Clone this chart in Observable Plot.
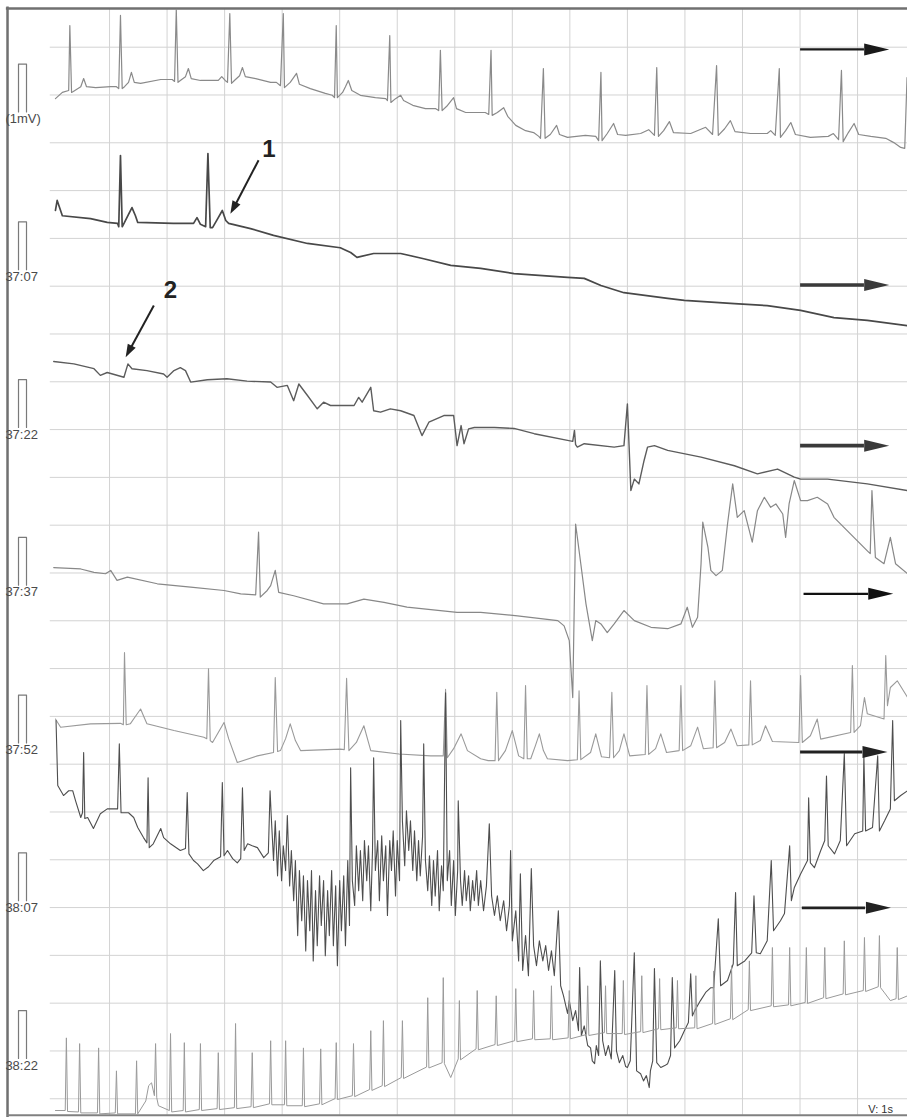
<!DOCTYPE html>
<html><head><meta charset="utf-8">
<script src="https://cdn.jsdelivr.net/npm/d3@7"></script>
<script src="https://cdn.jsdelivr.net/npm/@observablehq/plot@0.6"></script>
<style>html,body{margin:0;padding:0;background:#fff;overflow:hidden}#chart svg{display:block}</style>
</head><body><div id="chart"></div>
<script>
// ---- strip labels (each strip = 15 s) ----
const rowLabels = ["(1mV)", "37:07", "37:22", "37:37", "37:52", "38:07", "38:22"];

// ---- traces: [time in s within strip, amplitude in mV relative to strip baseline] ----
const row1 = [[0.06,0.28],[0.18,0.41],[0.29,0.45],[0.31,1.81],[0.34,0.41],[0.37,0.43],[0.50,0.53],[0.55,0.70],[0.60,0.53],[0.76,0.51],[1.02,0.53],[1.12,0.53],[1.16,0.49],[1.19,2.02],[1.22,0.49],[1.26,0.53],[1.33,0.62],[1.38,0.83],[1.43,0.62],[1.54,0.60],[1.89,0.68],[2.09,0.68],[2.13,0.64],[2.16,2.15],[2.19,0.62],[2.23,0.66],[2.32,0.74],[2.37,0.91],[2.42,0.70],[2.58,0.66],[2.84,0.66],[2.89,0.66],[2.95,0.74],[3.01,0.66],[3.05,0.62],[3.09,2.06],[3.12,0.60],[3.17,0.66],[3.26,0.76],[3.31,0.93],[3.36,0.74],[3.54,0.70],[3.80,0.62],[3.90,0.62],[3.97,0.55],[4.02,2.06],[4.04,0.51],[4.14,0.62],[4.25,0.81],[4.30,0.58],[4.49,0.49],[4.75,0.39],[4.87,0.35],[4.91,0.30],[4.94,1.81],[4.96,0.30],[5.05,0.41],[5.10,0.53],[5.15,0.66],[5.21,0.45],[5.36,0.35],[5.62,0.30],[5.80,0.28],[5.83,0.24],[5.87,1.60],[5.89,0.20],[5.97,0.28],[6.06,0.35],[6.11,0.24],[6.27,0.14],[6.49,0.07],[6.67,0.07],[6.72,0.03],[6.75,1.29],[6.78,0.03],[6.86,0.12],[6.98,0.30],[7.03,0.07],[7.19,-0.01],[7.41,-0.01],[7.53,-0.01],[7.59,-0.05],[7.63,1.29],[7.65,-0.07],[7.74,-0.01],[7.85,0.09],[7.92,-0.09],[8.06,-0.28],[8.23,-0.39],[8.37,-0.43],[8.46,-0.51],[8.49,-0.55],[8.54,0.91],[8.57,-0.55],[8.66,-0.47],[8.77,-0.28],[8.82,-0.47],[8.96,-0.53],[9.27,-0.49],[9.45,-0.51],[9.50,-0.60],[9.54,0.83],[9.56,-0.60],[9.65,-0.45],[9.76,-0.24],[9.83,-0.47],[9.97,-0.49],[10.23,-0.45],[10.37,-0.37],[10.47,-0.49],[10.51,0.93],[10.54,-0.51],[10.63,-0.39],[10.73,-0.20],[10.80,-0.43],[11.10,-0.45],[11.36,-0.32],[11.48,-0.47],[11.55,0.97],[11.58,-0.49],[11.69,-0.35],[11.79,-0.18],[11.87,-0.41],[12.14,-0.45],[12.43,-0.45],[12.49,-0.39],[12.57,-0.49],[12.64,0.91],[12.66,-0.53],[12.75,-0.39],[12.84,-0.22],[12.92,-0.47],[13.18,-0.53],[13.49,-0.51],[13.58,-0.45],[13.67,-0.58],[13.72,0.87],[13.75,-0.62],[13.84,-0.43],[13.94,-0.24],[14.02,-0.47],[14.23,-0.51],[14.49,-0.55],[14.63,-0.64],[14.75,-0.74],[14.82,-0.76],[14.86,0.72]];

const row2 = [[0.06,1.24],[0.09,1.45],[0.18,1.13],[0.67,1.07],[0.96,0.99],[1.14,0.97],[1.16,0.90],[1.19,2.39],[1.22,0.90],[1.26,0.99],[1.33,1.16],[1.39,1.30],[1.45,1.13],[1.49,0.99],[2.11,0.97],[2.46,0.97],[2.52,1.09],[2.58,0.95],[2.67,0.90],[2.71,2.43],[2.75,0.88],[2.79,0.88],[2.88,1.07],[2.96,1.24],[3.02,1.03],[3.07,0.97],[3.45,0.86],[3.85,0.72],[4.44,0.55],[5.01,0.46],[5.19,0.36],[5.30,0.26],[5.59,0.34],[6.06,0.34],[6.46,0.23],[6.93,0.09],[7.45,0.03],[8.03,-0.08],[8.96,-0.16],[9.25,-0.18],[9.54,-0.33],[9.94,-0.48],[10.70,-0.60],[10.99,-0.64],[11.86,-0.71],[12.43,-0.75],[13.01,-0.85],[13.59,-1.00],[14.17,-1.06],[14.87,-1.17]];

const row3 = [[0.03,1.38],[0.38,1.33],[0.73,1.23],[0.84,1.09],[0.96,1.15],[1.25,1.05],[1.32,1.33],[1.39,1.23],[1.65,1.19],[1.94,1.12],[2.00,1.05],[2.12,1.19],[2.23,1.25],[2.32,1.19],[2.41,0.95],[2.70,1.00],[3.04,1.02],[3.39,0.97],[3.80,0.95],[3.91,0.84],[4.09,0.88],[4.20,0.56],[4.29,0.91],[4.44,0.67],[4.61,0.39],[4.72,0.53],[4.84,0.46],[5.25,0.46],[5.33,0.63],[5.39,0.53],[5.54,0.84],[5.59,0.35],[5.71,0.32],[5.88,0.39],[6.06,0.35],[6.29,0.25],[6.43,-0.17],[6.55,0.11],[6.81,0.25],[6.98,0.25],[7.04,-0.38],[7.11,0.04],[7.16,-0.34],[7.24,-0.03],[7.34,0.00],[7.69,0.00],[8.03,-0.02],[8.38,-0.13],[8.96,-0.27],[9.05,-0.29],[9.08,-0.06],[9.10,-0.36],[9.13,-0.41],[9.25,-0.34],[9.77,-0.41],[9.94,-0.38],[10.00,0.49],[10.06,-1.32],[10.12,-1.08],[10.20,-1.18],[10.29,-0.69],[10.35,-0.41],[10.47,-0.38],[10.70,-0.48],[11.28,-0.62],[11.86,-0.80],[12.26,-0.97],[12.61,-0.87],[12.90,-1.04],[13.01,-1.08],[13.48,-1.08],[14.17,-1.18],[14.87,-1.32]];

const row4 = [[0.03,0.37],[0.50,0.34],[0.73,0.27],[0.93,0.24],[1.02,0.31],[1.13,0.10],[1.31,0.17],[1.83,0.03],[2.41,-0.04],[2.99,-0.11],[3.28,-0.18],[3.54,-0.20],[3.59,1.11],[3.62,-0.25],[3.74,-0.11],[3.80,-0.01],[3.88,0.31],[3.94,-0.15],[4.20,-0.22],[4.72,-0.39],[5.13,-0.39],[5.42,-0.29],[5.77,-0.36],[6.17,-0.46],[7.04,-0.57],[7.45,-0.57],[8.09,-0.64],[8.79,-0.74],[8.90,-0.85],[8.99,-1.16],[9.05,-2.35],[9.10,1.28],[9.19,0.45],[9.28,-0.39],[9.39,-1.16],[9.45,-0.74],[9.54,-0.81],[9.65,-0.99],[9.77,-0.81],[9.94,-0.53],[10.12,-0.74],[10.41,-0.88],[10.70,-0.91],[10.93,-0.81],[11.04,-0.46],[11.13,-0.88],[11.22,-0.67],[11.28,0.45],[11.31,1.32],[11.40,0.79],[11.45,0.31],[11.54,0.20],[11.65,0.31],[11.74,1.28],[11.83,2.12],[11.91,1.42],[12.03,1.56],[12.17,0.90],[12.26,1.56],[12.38,1.84],[12.49,1.63],[12.58,1.70],[12.70,1.49],[12.75,1.00],[12.81,1.70],[12.90,2.19],[13.01,1.77],[13.13,1.77],[13.30,1.84],[13.48,1.70],[13.59,1.42],[13.88,1.07],[14.17,0.72],[14.22,0.66],[14.25,1.98],[14.31,0.58],[14.46,0.45],[14.57,1.00],[14.66,0.45],[14.87,0.24]];

const row5 = [[0.06,0.50],[0.15,0.33],[0.67,0.40],[1.19,0.41],[1.24,0.38],[1.26,1.89],[1.29,0.38],[1.36,0.40],[1.47,0.59],[1.54,0.71],[1.61,0.51],[1.65,0.40],[2.12,0.26],[2.64,0.12],[2.69,0.09],[2.72,1.55],[2.75,0.05],[2.79,0.01],[2.89,0.22],[2.99,0.43],[3.07,0.09],[3.22,-0.41],[3.57,-0.27],[3.85,-0.20],[3.88,1.37],[3.92,-0.18],[3.97,-0.16],[4.06,0.09],[4.14,0.40],[4.23,0.05],[4.32,-0.16],[5.01,-0.13],[5.08,-0.14],[5.12,1.35],[5.16,-0.16],[5.29,0.01],[5.42,0.36],[5.50,0.01],[5.54,-0.16],[6.03,-0.23],[6.58,-0.27],[6.80,-0.27],[6.84,1.12],[6.87,-0.31],[6.98,-0.12],[7.11,0.19],[7.22,-0.16],[7.45,-0.33],[7.58,-0.37],[7.70,-0.37],[7.73,1.06],[7.76,-0.37],[7.88,-0.16],[8.00,0.26],[8.11,-0.27],[8.20,-0.33],[8.23,1.20],[8.26,-0.33],[8.32,-0.33],[8.40,-0.06],[8.47,0.19],[8.54,-0.16],[8.61,-0.33],[8.96,-0.37],[9.13,-0.35],[9.16,1.09],[9.19,-0.35],[9.36,-0.20],[9.45,0.19],[9.55,-0.29],[9.69,-0.31],[9.73,1.06],[9.76,-0.31],[9.86,-0.16],[9.94,0.19],[10.04,-0.27],[10.31,-0.24],[10.34,1.20],[10.37,-0.24],[10.49,-0.12],[10.58,0.19],[10.68,-0.20],[10.90,-0.16],[10.93,1.20],[10.96,-0.16],[11.10,-0.06],[11.22,0.33],[11.32,-0.12],[11.49,-0.10],[11.52,1.30],[11.55,-0.10],[11.69,0.01],[11.80,0.29],[11.91,-0.06],[12.11,-0.04],[12.14,1.30],[12.17,-0.04],[12.31,0.05],[12.40,0.36],[12.52,0.03],[12.98,0.01],[13.01,1.41],[13.04,0.01],[13.18,0.15],[13.30,0.50],[13.36,0.08],[13.88,0.22],[13.91,1.62],[13.94,0.22],[14.05,0.36],[14.12,0.95],[14.17,0.61],[14.46,0.50],[14.49,1.83],[14.52,0.78],[14.57,1.16],[14.69,1.30],[14.87,0.95]];

const row6 = [[0.07,3.77],[0.10,2.41],[0.20,2.20],[0.29,2.30],[0.36,2.30],[0.41,2.09],[0.50,1.74],[0.53,1.84],[0.55,3.10],[0.57,1.72],[0.62,1.74],[0.72,1.51],[0.84,1.82],[0.96,1.92],[1.14,1.92],[1.17,3.28],[1.20,1.84],[1.33,1.84],[1.42,1.74],[1.49,1.53],[1.59,1.32],[1.65,1.21],[1.67,2.57],[1.69,1.11],[1.76,1.19],[1.89,1.51],[1.94,1.32],[2.06,1.19],[2.23,1.05],[2.32,1.09],[2.35,2.26],[2.38,0.98],[2.46,0.84],[2.53,0.77],[2.63,0.63],[2.72,0.71],[2.81,0.84],[2.93,0.92],[2.96,2.47],[2.99,0.94],[3.05,1.05],[3.14,0.88],[3.22,0.79],[3.28,0.88],[3.31,2.36],[3.34,1.05],[3.40,1.19],[3.48,1.15],[3.57,1.11],[3.68,0.90],[3.76,1.00],[3.79,2.30],[3.81,1.78],[3.85,0.84],[3.88,1.67],[3.92,0.52],[3.95,1.46],[3.99,0.42],[4.02,1.15],[4.06,0.63],[4.09,1.78],[4.13,0.31],[4.16,1.05],[4.20,0.00],[4.23,0.84],[4.27,-0.73],[4.30,0.63],[4.34,-0.42],[4.37,0.52],[4.41,-1.05],[4.44,0.42],[4.48,-0.63],[4.51,0.63],[4.54,-1.26],[4.58,0.21],[4.61,-0.94],[4.65,0.52],[4.68,-0.52],[4.72,0.42],[4.75,-1.15],[4.79,0.21],[4.82,-0.73],[4.86,0.63],[4.89,-0.94],[4.93,0.31],[4.96,-1.36],[5.00,0.42],[5.03,-0.63],[5.07,0.52],[5.10,-0.94],[5.14,0.84],[5.17,-0.52],[5.19,2.78],[5.22,0.42],[5.26,-0.10],[5.29,1.15],[5.33,0.21],[5.36,1.05],[5.40,0.00],[5.43,1.26],[5.47,0.42],[5.50,1.15],[5.54,-0.21],[5.57,1.05],[5.59,2.99],[5.62,0.63],[5.66,1.26],[5.69,0.00],[5.73,1.36],[5.76,0.42],[5.80,1.15],[5.83,-0.31],[5.87,1.26],[5.90,0.63],[5.93,1.46],[5.97,0.10],[6.00,1.26],[6.04,0.42],[6.06,3.77],[6.09,1.67],[6.13,0.73],[6.16,1.88],[6.20,1.05],[6.23,1.67],[6.27,0.63],[6.30,1.46],[6.34,0.42],[6.37,1.26],[6.40,0.52],[6.44,1.34],[6.46,3.28],[6.49,0.84],[6.53,0.21],[6.56,0.94],[6.60,-0.10],[6.63,0.84],[6.66,0.10],[6.70,1.05],[6.73,-0.21],[6.77,0.73],[6.80,0.21],[6.84,4.35],[6.87,0.42],[6.91,1.05],[6.94,-0.10],[6.98,0.84],[7.01,-0.31],[7.05,0.63],[7.06,2.09],[7.10,0.42],[7.13,-0.10],[7.17,0.63],[7.20,0.00],[7.24,0.52],[7.27,-0.21],[7.31,0.42],[7.34,0.00],[7.38,0.63],[7.41,-0.10],[7.45,0.42],[7.50,-0.21],[7.55,0.31],[7.60,1.61],[7.64,0.10],[7.69,-0.31],[7.74,0.10],[7.79,-0.42],[7.85,0.00],[7.90,-0.63],[7.95,-0.10],[7.97,1.05],[8.00,-0.84],[8.06,-0.21],[8.11,-1.26],[8.14,0.56],[8.18,-1.46],[8.23,-0.73],[8.28,-1.57],[8.33,0.67],[8.37,-0.94],[8.42,-1.36],[8.47,-0.84],[8.53,-1.26],[8.58,-0.94],[8.63,-1.46],[8.68,-1.05],[8.73,-1.57],[8.80,-0.21],[8.84,-1.78],[8.89,-1.99],[8.96,-2.36],[8.99,-2.09],[9.05,-2.51],[9.10,-2.30],[9.15,-2.72],[9.17,-1.40],[9.20,-2.82],[9.25,-2.62],[9.31,-3.03],[9.36,-3.08],[9.39,-3.35],[9.43,-3.41],[9.46,-3.03],[9.50,-3.24],[9.53,-1.26],[9.57,-2.93],[9.62,-3.24],[9.67,-3.03],[9.72,-3.31],[9.78,-1.46],[9.81,-3.14],[9.86,-3.39],[9.92,-3.24],[9.97,-3.47],[10.00,-3.49],[10.05,-3.35],[10.12,-1.09],[10.16,-3.56],[10.23,-3.62],[10.28,-3.77],[10.33,-3.66],[10.38,-3.91],[10.40,-3.56],[10.44,-3.35],[10.47,-1.42],[10.51,-3.39],[10.58,-3.49],[10.65,-3.45],[10.70,-3.41],[10.75,-3.24],[10.78,-1.61],[10.82,-3.08],[10.91,-2.93],[10.99,-2.72],[11.06,-2.55],[11.10,-1.53],[11.13,-2.41],[11.17,-2.30],[11.27,-2.09],[11.36,-1.92],[11.45,-1.82],[11.50,-1.82],[11.58,-0.38],[11.62,-1.78],[11.74,-1.67],[11.84,-1.32],[11.88,0.17],[11.91,-1.36],[12.04,-1.26],[12.16,-1.09],[12.20,0.10],[12.24,-1.09],[12.31,-1.11],[12.43,-0.84],[12.50,0.84],[12.54,-0.63],[12.66,-0.42],[12.73,-0.27],[12.82,1.15],[12.85,0.00],[12.90,0.27],[13.01,0.56],[13.13,0.84],[13.15,2.15],[13.18,0.79],[13.25,0.69],[13.36,1.05],[13.43,1.26],[13.46,2.61],[13.49,1.15],[13.60,0.98],[13.70,1.26],[13.77,3.08],[13.81,1.15],[13.95,1.40],[14.09,1.46],[14.11,3.03],[14.14,1.46],[14.26,1.53],[14.35,3.03],[14.38,1.46],[14.47,1.67],[14.57,1.92],[14.61,3.77],[14.64,2.09],[14.75,2.20],[14.87,2.30]];

const row7 = [[0.06,-1.09],[0.23,-1.09],[0.25,0.43],[0.27,-1.11],[0.46,-1.12],[0.48,0.31],[0.50,-1.14],[0.79,-1.14],[0.81,0.22],[0.83,-1.16],[1.10,-1.14],[1.12,-0.26],[1.14,-1.16],[1.45,-1.16],[1.47,-0.05],[1.49,-1.16],[1.63,-0.89],[1.68,-0.57],[1.73,-0.51],[1.78,-0.78],[1.80,0.31],[1.82,-0.82],[1.85,-0.99],[2.04,-1.09],[2.06,0.52],[2.08,-1.12],[2.28,-1.09],[2.30,0.33],[2.32,-1.12],[2.56,-1.07],[2.58,0.31],[2.60,-1.09],[2.87,-1.05],[2.89,0.12],[2.91,-1.07],[3.17,-1.03],[3.19,0.73],[3.21,-1.05],[3.46,-1.01],[3.48,0.12],[3.50,-1.03],[3.78,-0.95],[3.80,0.37],[3.82,-0.97],[4.04,-0.97],[4.06,0.37],[4.08,-0.99],[4.35,-0.99],[4.37,0.22],[4.39,-1.01],[4.65,-0.95],[4.67,0.20],[4.69,-0.97],[4.92,-0.84],[4.94,0.33],[4.96,-0.86],[5.22,-0.78],[5.24,0.31],[5.26,-0.80],[5.52,-0.65],[5.54,0.58],[5.56,-0.67],[5.74,-0.57],[5.76,0.79],[5.78,-0.59],[6.07,-0.40],[6.09,0.79],[6.11,-0.42],[6.51,-0.18],[6.53,1.27],[6.55,-0.20],[6.78,-0.09],[6.80,1.69],[6.82,-0.11],[6.93,-0.40],[7.06,-0.01],[7.08,1.21],[7.10,-0.03],[7.37,0.20],[7.39,1.42],[7.41,0.18],[7.70,0.29],[7.72,1.31],[7.74,0.27],[8.04,0.37],[8.06,1.46],[8.08,0.35],[8.35,0.41],[8.37,1.42],[8.39,0.39],[8.66,0.41],[8.68,1.52],[8.70,0.39],[8.97,0.43],[8.99,1.42],[9.01,0.41],[9.29,0.50],[9.31,1.52],[9.33,0.48],[9.60,0.54],[9.62,1.52],[9.64,0.52],[9.91,0.52],[9.93,1.63],[9.95,0.50],[10.23,0.56],[10.25,1.73],[10.27,0.54],[10.54,0.62],[10.56,1.67],[10.58,0.60],[10.85,0.64],[10.87,1.63],[10.89,0.62],[11.17,0.64],[11.19,1.73],[11.21,0.62],[11.48,0.73],[11.50,1.83],[11.52,0.71],[11.79,0.83],[11.81,1.94],[11.83,0.81],[12.10,1.02],[12.12,2.04],[12.14,1.00],[12.50,1.10],[12.52,2.32],[12.54,1.08],[12.80,1.12],[12.82,2.32],[12.84,1.10],[13.09,1.17],[13.11,2.32],[13.13,1.15],[13.41,1.27],[13.43,2.32],[13.45,1.25],[13.75,1.35],[13.77,2.46],[13.79,1.33],[14.10,1.42],[14.12,2.53],[14.14,1.40],[14.36,1.50],[14.38,2.57],[14.40,1.48],[14.47,1.37],[14.57,1.21],[14.67,1.25],[14.69,2.32],[14.71,1.23],[14.87,1.31]];

// ---- annotations (s, mV on strip 1's scale) ----
const directionArrows = [ // one per strip, pointing in the time direction
  {y: 1.31, from: 13.01, head: 14.12, to: 14.55},
  {y: -3.62, from: 13.01, head: 14.12, to: 14.55},
  {y: -6.98, from: 13.01, head: 14.12, to: 14.55},
  {y: -10.08, from: 13.07, head: 14.19, to: 14.62},
  {y: -13.39, from: 13.01, head: 14.09, to: 14.52},
  {y: -16.65, from: 13.04, head: 14.14, to: 14.58}
];
const markers = [
  {label: "1", tx: 3.77, ty: -0.77, x1: 3.59, y1: -1.01, x2: 3.20, y2: -1.91, tipX: 3.10, tipY: -2.13},
  {label: "2", tx: 2.06, ty: -3.73, x1: 1.77, y1: -4.05, x2: 1.38, y2: -4.91, tipX: 1.28, tipY: -5.13}
];
const speedLabel = "V: 1s";

// ---- layout constants ----
const ROW_GAP = 3.3;              // mV between consecutive 15-s strips
const calib = {start: -0.582, end: -0.443, mV: 1};
const gridTop = 1.356;            // first horizontal grid line (mV on strip 1)
const frame = {left: -0.773, top: 2.165, bottom: -20.99};
const traceColors = ["#8a8a8a", "#484848", "#5c5c5c", "#888888", "#9a9a9a", "#4e4e4e", "#9a9a9a"];
const traceWidths = [1.2, 1.7, 1.4, 1.2, 1.1, 1.1, 1.0];
const arrowWidths = [2.2, 3.6, 3.6, 2.2, 3.0, 2.6];
const arrowColors = ["#1a1a1a", "#3a3a3a", "#3a3a3a", "#111111", "#222222", "#222222"];

const strips = [row1, row2, row3, row4, row5, row6, row7];
const stripData = strips.map((pts, r) => pts.map(([t, v]) => ({t, y: v - ROW_GAP * r})));
const pulses = rowLabels.flatMap((s, r) => {
  const b = -ROW_GAP * r;
  return [[calib.start, b], [calib.start, b + calib.mV], [calib.end, b + calib.mV], [calib.end, b]]
    .map(([t, y]) => ({t, y, r}));
});
const labelData = rowLabels.map((s, r) => ({s, y: -ROW_GAP * r}));
const gridY = d3.range(23).map(k => gridTop - k);
const gridX = d3.range(1, 15);

const bigHead = {draw(ctx) { ctx.moveTo(0, 0); ctx.lineTo(-25, -6); ctx.lineTo(-25, 6); ctx.closePath(); }};
const smallHead = {draw(ctx) { ctx.moveTo(0, 0); ctx.lineTo(-13, -4.5); ctx.lineTo(-13, 4.5); ctx.closePath(); }};
const font = "'Liberation Sans', Arial, Helvetica, sans-serif";

const marks = [
  Plot.ruleY(gridY, {x1: -0.03, x2: 14.87, stroke: "#d3d3d3", strokeWidth: 1}),
  Plot.ruleX(gridX, {y1: frame.bottom, y2: frame.top, stroke: "#d3d3d3", strokeWidth: 1}),
  Plot.ruleX([frame.left], {y1: -21.1, y2: frame.top + 0.03, stroke: "#707070", strokeWidth: 2.5}),
  Plot.ruleY([frame.top], {x1: frame.left - 0.02, x2: 14.87, stroke: "#707070", strokeWidth: 2.5}),
  Plot.ruleY([frame.bottom], {x1: frame.left, x2: 14.87, stroke: "#808080", strokeWidth: 2}),
  Plot.line(pulses, {x: "t", y: "y", z: "r", stroke: "#7a7a7a", strokeWidth: 1.2}),
  Plot.text(labelData, {x: -0.81, y: "y", text: "s", textAnchor: "start", dy: 7, fontSize: 13, fill: "#4a4a4a", fontFamily: font}),
  ...stripData.map((d, r) => Plot.line(d, {x: "t", y: "y", stroke: traceColors[r], strokeWidth: traceWidths[r], strokeLinejoin: "round"})),
  Plot.ruleY(directionArrows, {y: "y", x1: "from", x2: "head", stroke: (d, i) => arrowColors[i], strokeWidth: (d, i) => arrowWidths[i]}),
  Plot.dot(directionArrows, {x: "to", y: "y", symbol: bigHead, r: 5, fill: (d, i) => arrowColors[i], stroke: "none"}),
  Plot.link(markers, {x1: "x1", y1: "y1", x2: "x2", y2: "y2", stroke: "#222", strokeWidth: 2}),
  Plot.dot(markers, {x: "tipX", y: "tipY", symbol: smallHead, r: 4, rotate: 118, fill: "#222", stroke: "none"}),
  Plot.text(markers, {x: "tx", y: "ty", text: "label", fontSize: 24, fontWeight: "bold", fill: "#222", fontFamily: font}),
  Plot.text([speedLabel], {x: 14.40, y: -20.87, text: d => d, fontSize: 11, fill: "#333", fontFamily: font})
];

const chart = Plot.plot({
  width: 907, height: 1117, margin: 0,
  x: {domain: [-0.895, 14.868], axis: null},
  y: {domain: [-21.036, 2.333], axis: null},
  style: {background: "#fff"},
  marks
});
document.getElementById("chart").appendChild(chart);
</script></body></html>
